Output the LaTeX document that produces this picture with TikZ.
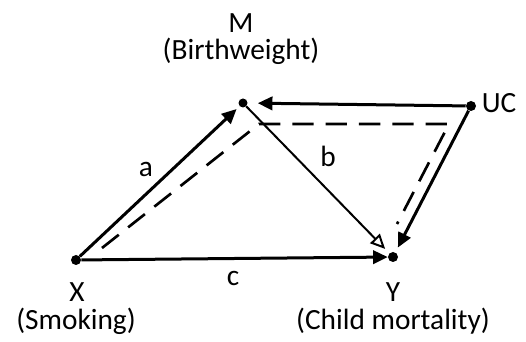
\documentclass[tikz,border=0pt]{standalone}
\usepackage{fontspec}
\setmainfont{Carlito}
\usetikzlibrary{arrows.meta}
\tikzset{
    dot/.style={circle,fill,inner sep=0pt,minimum size=7.5pt},
    txt/.style={inner sep=0pt,font=\fontsize{22}{26}\selectfont},
    arr/.style={line width=2.25pt,-{Triangle[length=11pt,width=10pt]}},
    openarr/.style={line width=1.5pt,-{Triangle[open,length=11pt,width=10pt]}},
    backdoor/.style={line width=2pt,dash pattern=on 16pt off 9pt}
}
\begin{document}
\begin{tikzpicture}[x=0.75pt,y=-0.75pt]
        \useasboundingbox (0,0) rectangle (526,342);
        % the four variables
        \node [dot] (X) at (76,260) {};
        \node [dot,minimum size=6.75pt] (M) at (243,103) {};
        \node [dot] (UC) at (471,106) {};
        \node [dot] (Y) at (393,257) {};
        % names
        \node [txt] (Mname) at (241,23) {M};
        \node [txt] (Mnote) at (241,51) {(Birthweight)};
        \node [txt] (UCname) at (499,103) {UC};
        \node [txt] (Xname) at (77,292) {X};
        \node [txt] (Xnote) at (76,321) {(Smoking)};
        \node [txt] (Yname) at (393,292) {Y};
        \node [txt] (Ynote) at (393,321) {(Child mortality)};
        % paths
        \draw [arr,shorten >=3pt] (X) -- (M);
        \draw [arr] (X) -- (Y);
        \draw [arr,shorten >=7.5pt] (UC) -- (M);
        \draw [arr,shorten >=4pt] (UC) -- (Y);
        \draw [openarr,shorten >=4.5pt] (M) -- (Y);
        \path (146,169) node [txt] (a) {a};
        \path (328,156) node [txt] (b) {b};
        \path (233,278) node [txt] (c) {c};
        % back-door path
        \coordinate (p1) at (102,248);
        \coordinate (p2) at (259,124);
        \coordinate (p3) at (449,124);
        \coordinate (p4) at (397,224);
        \draw [backdoor] (p1) -- (p2) -- (p3) -- (p4);
    \end{tikzpicture}
\end{document}
